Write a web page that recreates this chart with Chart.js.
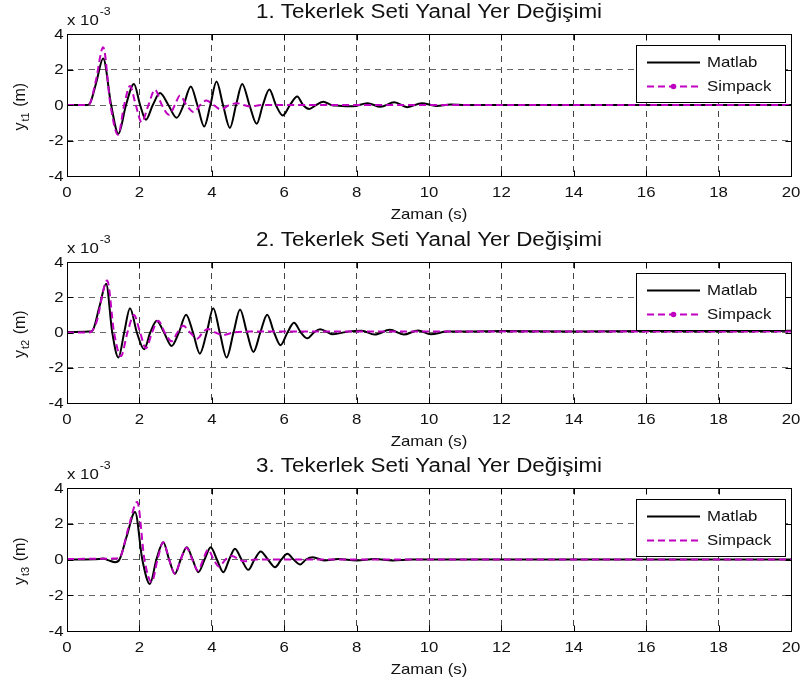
<!DOCTYPE html>
<html>
<head>
<meta charset="utf-8">
<script src="https://cdn.jsdelivr.net/npm/chart.js@4/dist/chart.umd.min.js"></script>
<style>
html, body { margin: 0; padding: 0; background: #fff; }
#wrap { position: relative; width: 807px; height: 687px; overflow: hidden; }
canvas { position: absolute; left: 0; }
</style>
</head>
<body>
<div id="wrap">
  <canvas id="c1" width="807" height="228" style="top:0px"></canvas>
  <canvas id="c2" width="807" height="226" style="top:228px"></canvas>
  <canvas id="c3" width="807" height="233" style="top:454px"></canvas>
</div>
<script>
// values in units of 1e-3 m, time in s
const xTicks = [0, 2, 4, 6, 8, 10, 12, 14, 16, 18, 20];
const yTicks = [-4, -2, 0, 2, 4];

const t1Matlab = [0, 0.55, 0.62, 0.8, 1.0, 1.22, 1.42, 1.63, 1.85, 2.02, 2.18, 2.37, 2.57, 2.8, 3.03, 3.22, 3.42, 3.6, 3.79, 3.96, 4.13, 4.31, 4.5, 4.67, 4.84, 5.04, 5.24, 5.41, 5.59, 5.77, 5.96, 6.16, 6.36, 6.52, 6.69, 6.88, 7.08, 7.3, 7.5, 7.9, 8.3, 8.66, 9.04, 9.4, 9.8, 10.2, 10.6, 11, 20];
const y1Matlab = [0, 0, 0.05, 1.2, 2.62, 0, -1.62, 0, 1.19, 0, -0.83, 0, 0.67, 0, -0.72, 0, 1.04, 0, -1.21, 0, 1.32, 0, -1.29, 0, 1.19, 0, -1.06, 0, 0.87, 0, -0.59, 0, 0.48, 0, -0.22, 0, 0.18, 0, -0.04, -0.07, 0.1, -0.1, 0.15, -0.12, 0.1, -0.05, 0.03, 0, 0];
const t1Simpack = [0, 0.55, 0.62, 0.8, 1.0, 1.2, 1.41, 1.58, 1.74, 1.9, 2.06, 2.25, 2.43, 2.62, 2.82, 2.98, 3.12, 3.3, 3.5, 3.68, 3.85, 4.05, 4.25, 4.48, 4.7, 4.88, 5.05, 5.4, 20];
const y1Simpack = [0, 0, 0.05, 1.4, 3.26, 0, -1.68, 0, 1.07, 0, -0.97, 0, 0.86, 0, -0.55, 0, 0.54, 0, -0.4, 0, 0.25, 0, -0.25, 0, 0.1, 0, -0.08, 0, 0];

const t2Matlab = [0, 0.6, 0.7, 0.9, 1.08, 1.25, 1.42, 1.58, 1.74, 1.93, 2.13, 2.3, 2.48, 2.68, 2.89, 3.09, 3.29, 3.48, 3.67, 3.86, 4.04, 4.22, 4.41, 4.6, 4.78, 4.97, 5.15, 5.34, 5.53, 5.72, 5.9, 6.09, 6.27, 6.46, 6.64, 6.82, 6.99, 7.34, 7.75, 8.14, 8.5, 8.92, 9.3, 9.7, 10.05, 10.5, 11, 12, 14, 16, 18, 20];
const y2Matlab = [0.03, 0.05, 0.1, 1.5, 2.77, 0, -1.42, 0, 1.38, 0, -0.95, 0, 0.67, 0, -0.76, 0, 1.01, 0, -1.2, 0, 1.38, 0, -1.42, 0, 1.31, 0, -1.1, 0, 1.01, 0, -0.72, 0, 0.55, 0, -0.33, 0, 0.19, -0.1, 0.05, 0.1, -0.12, 0.15, -0.12, 0.12, -0.1, 0.05, 0.05, 0.08, 0.06, 0.08, 0.07, 0.1];
const t2Simpack = [0, 0.6, 0.8, 1.11, 1.3, 1.49, 1.67, 1.85, 2.02, 2.18, 2.35, 2.52, 2.7, 2.89, 3.05, 3.21, 3.4, 3.6, 3.75, 3.9, 4.1, 4.3, 4.6, 5, 20];
const y2Simpack = [0, 0, 0.5, 2.95, 0, -1.34, 0, 0.99, 0, -0.9, 0, 0.67, 0, -0.5, 0, 0.38, 0, -0.35, 0, 0.2, 0, -0.15, 0, 0.05, 0.05];

const t3Matlab = [0, 0.9, 1.0, 1.15, 1.33, 1.45, 1.65, 1.88, 2.08, 2.29, 2.47, 2.66, 2.82, 2.98, 3.14, 3.31, 3.47, 3.63, 3.8, 3.97, 4.14, 4.32, 4.48, 4.64, 4.82, 5.01, 5.18, 5.35, 5.55, 5.75, 5.92, 6.09, 6.26, 6.44, 6.6, 6.79, 7.1, 7.5, 8.0, 8.5, 9.0, 9.5, 20];
const y3Matlab = [0, 0.03, 0.05, -0.05, -0.15, 0, 1.3, 2.66, 0, -1.37, 0, 0.97, 0, -0.8, 0, 0.69, 0, -0.71, 0, 0.69, 0, -0.71, 0, 0.6, 0, -0.58, 0, 0.45, 0, -0.43, 0, 0.32, 0, -0.28, 0, 0.13, -0.05, 0.03, -0.05, 0.03, -0.05, 0, 0];
const t3Simpack = [0, 1.3, 1.45, 1.7, 1.94, 2.14, 2.34, 2.5, 2.66, 2.82, 2.98, 3.14, 3.3, 3.46, 3.62, 3.76, 3.9, 4.05, 4.2, 4.38, 4.56, 4.75, 4.9, 5.2, 20];
const y3Simpack = [0.03, 0.05, 0.1, 1.8, 3.22, 0, -1.27, 0, 0.97, 0, -0.8, 0, 0.66, 0, -0.62, 0, 0.55, 0, -0.4, 0, 0.2, 0, -0.1, 0, 0];

const FONT = '"Liberation Sans", Arial, Helvetica, sans-serif';
const SX = 1.12;

function drawText(ctx, str, x, y, size, align, base) {
    ctx.save();
    ctx.translate(x, y);
    ctx.scale(SX, 1);
    ctx.font = size + 'px ' + FONT;
    ctx.textAlign = align || 'left';
    ctx.textBaseline = base || 'alphabetic';
    ctx.fillStyle = '#111';
    ctx.fillText(str, 0, 0);
    ctx.restore();
}

function textWidth(ctx, str, size) {
    ctx.font = size + 'px ' + FONT;
    return ctx.measureText(str).width * SX;
}

// axes box, inward ticks, labels and legend drawn the MATLAB way
const panelPlugin = {
    id: 'panel',
    afterDraw(chart, args, opts) {
        const ctx = chart.ctx;
        const a = chart.chartArea;
        const xs = chart.scales.x;
        const ys = chart.scales.y;
        const L = Math.round(a.left) + 0.5, R = Math.round(a.right) + 0.5;
        const T = Math.round(a.top) + 0.5, B = Math.round(a.bottom) + 0.5;

        ctx.save();
        ctx.strokeStyle = '#000';
        ctx.lineWidth = 1;
        ctx.setLineDash([]);
        ctx.strokeRect(L, T, R - L, B - T);

        ctx.beginPath();
        xs.ticks.forEach(t => {
            const px = Math.round(xs.getPixelForValue(t.value)) + 0.5;
            ctx.moveTo(px, T); ctx.lineTo(px, T + 6);
            ctx.moveTo(px, B); ctx.lineTo(px, B - 6);
        });
        ys.ticks.forEach(t => {
            const py = Math.round(ys.getPixelForValue(t.value)) + 0.5;
            ctx.moveTo(L, py); ctx.lineTo(L + 6, py);
            ctx.moveTo(R, py); ctx.lineTo(R - 6, py);
        });
        ctx.stroke();
        ctx.restore();

        xs.ticks.forEach(t => {
            drawText(ctx, String(t.value), xs.getPixelForValue(t.value), B + 20, 15, 'center');
        });
        ys.ticks.forEach(t => {
            drawText(ctx, String(t.value), L - 4, ys.getPixelForValue(t.value) + 0.5, 15, 'right', 'middle');
        });

        const cx = (a.left + a.right) / 2;
        drawText(ctx, opts.title, cx, T - 17, 20, 'center');
        drawText(ctx, 'Zaman (s)', cx, B + 42, 15, 'center');

        // exponent
        drawText(ctx, 'x 10', a.left, T - 10, 15);
        drawText(ctx, '-3', a.left + textWidth(ctx, 'x 10', 15) + 1, T - 20, 11);

        // y label, rotated
        const main = 16, small = 11;
        const w1 = textWidth(ctx, 'y', main), w2 = textWidth(ctx, opts.sub, small), w3 = textWidth(ctx, ' (m)', main);
        ctx.save();
        ctx.translate(25, (a.top + a.bottom) / 2);
        ctx.rotate(-Math.PI / 2);
        ctx.fillStyle = '#111';
        let px = -(w1 + w2 + w3) / 2;
        ctx.font = main + 'px ' + FONT;
        ctx.fillText('y', px, 0);
        px += w1;
        ctx.font = small + 'px ' + FONT;
        ctx.fillText(opts.sub, px, 4);
        px += w2;
        ctx.font = main + 'px ' + FONT;
        ctx.fillText(' (m)', px, 0);
        ctx.restore();

        // legend
        const bl = 636.5, br = 785.5, bt = Math.round(a.top + 10.5) + 0.5, bh = 57;
        ctx.save();
        ctx.fillStyle = '#fff';
        ctx.fillRect(bl, bt, br - bl, bh);
        ctx.strokeStyle = '#000';
        ctx.lineWidth = 1;
        ctx.strokeRect(bl, bt, br - bl, bh);
        const r1 = bt + 17, r2 = bt + 41;
        ctx.lineWidth = 2;
        ctx.beginPath();
        ctx.moveTo(647, r1); ctx.lineTo(700, r1);
        ctx.stroke();
        ctx.strokeStyle = '#c000c0';
        ctx.setLineDash([7, 4]);
        ctx.beginPath();
        ctx.moveTo(647, r2); ctx.lineTo(700, r2);
        ctx.stroke();
        ctx.setLineDash([]);
        if (opts.marker) {
            ctx.fillStyle = '#c000c0';
            ctx.beginPath();
            ctx.arc(673.5, r2, 2.8, 0, Math.PI * 2);
            ctx.fill();
        }
        ctx.restore();
        drawText(ctx, 'Matlab', 707, r1 + 0.5, 15, 'left', 'middle');
        drawText(ctx, 'Simpack', 707, r2 + 0.5, 15, 'left', 'middle');
    }
};

const toPoints = (ts, vs) => ts.map((t, i) => ({ x: t, y: vs[i] }));

function makePanel(id, title, sub, marker, tm, ym, tsp, ysp, plotTop, plotBottom) {
    const canvas = document.getElementById(id);
    const h = canvas.height;
    return new Chart(canvas.getContext('2d'), {
        type: 'line',
        data: {
            datasets: [{
                label: 'Matlab',
                data: toPoints(tm, ym),
                borderColor: '#000',
                borderWidth: 2,
                pointRadius: 0,
                cubicInterpolationMode: 'monotone',
                order: 1
            }, {
                label: 'Simpack',
                data: toPoints(tsp, ysp),
                borderColor: '#c000c0',
                borderWidth: 2,
                borderDash: [7, 4],
                pointRadius: 0,
                cubicInterpolationMode: 'monotone',
                order: 0
            }]
        },
        options: {
            responsive: false,
            animation: false,
            devicePixelRatio: 1,
            layout: { padding: { top: plotTop, left: 0, right: 16, bottom: 0 } },
            scales: {
                x: {
                    type: 'linear',
                    min: 0, max: 20,
                    afterBuildTicks: s => { s.ticks = xTicks.map(v => ({ value: v })); },
                    afterFit: s => { s.height = h - plotBottom; },
                    ticks: { display: false },
                    grid: { color: '#444', lineWidth: 1, drawTicks: false },
                    border: { display: false, dash: [6, 5] }
                },
                y: {
                    min: -4, max: 4,
                    afterBuildTicks: s => { s.ticks = yTicks.map(v => ({ value: v })); },
                    afterFit: s => { s.width = 67; },
                    ticks: { display: false },
                    grid: { color: '#666', lineWidth: 1, drawTicks: false },
                    border: { display: false, dash: [6, 5] }
                }
            },
            plugins: {
                legend: { display: false },
                tooltip: { enabled: false },
                panel: { title: title, sub: sub, marker: marker }
            }
        },
        plugins: [panelPlugin]
    });
}

makePanel('c1', '1. Tekerlek Seti Yanal Yer Değişimi', 't1', true, t1Matlab, y1Matlab, t1Simpack, y1Simpack, 34, 176);
makePanel('c2', '2. Tekerlek Seti Yanal Yer Değişimi', 't2', true, t2Matlab, y2Matlab, t2Simpack, y2Simpack, 34, 175);
makePanel('c3', '3. Tekerlek Seti Yanal Yer Değişimi', 't3', false, t3Matlab, y3Matlab, t3Simpack, y3Simpack, 34, 177);
</script>
</body>
</html>
